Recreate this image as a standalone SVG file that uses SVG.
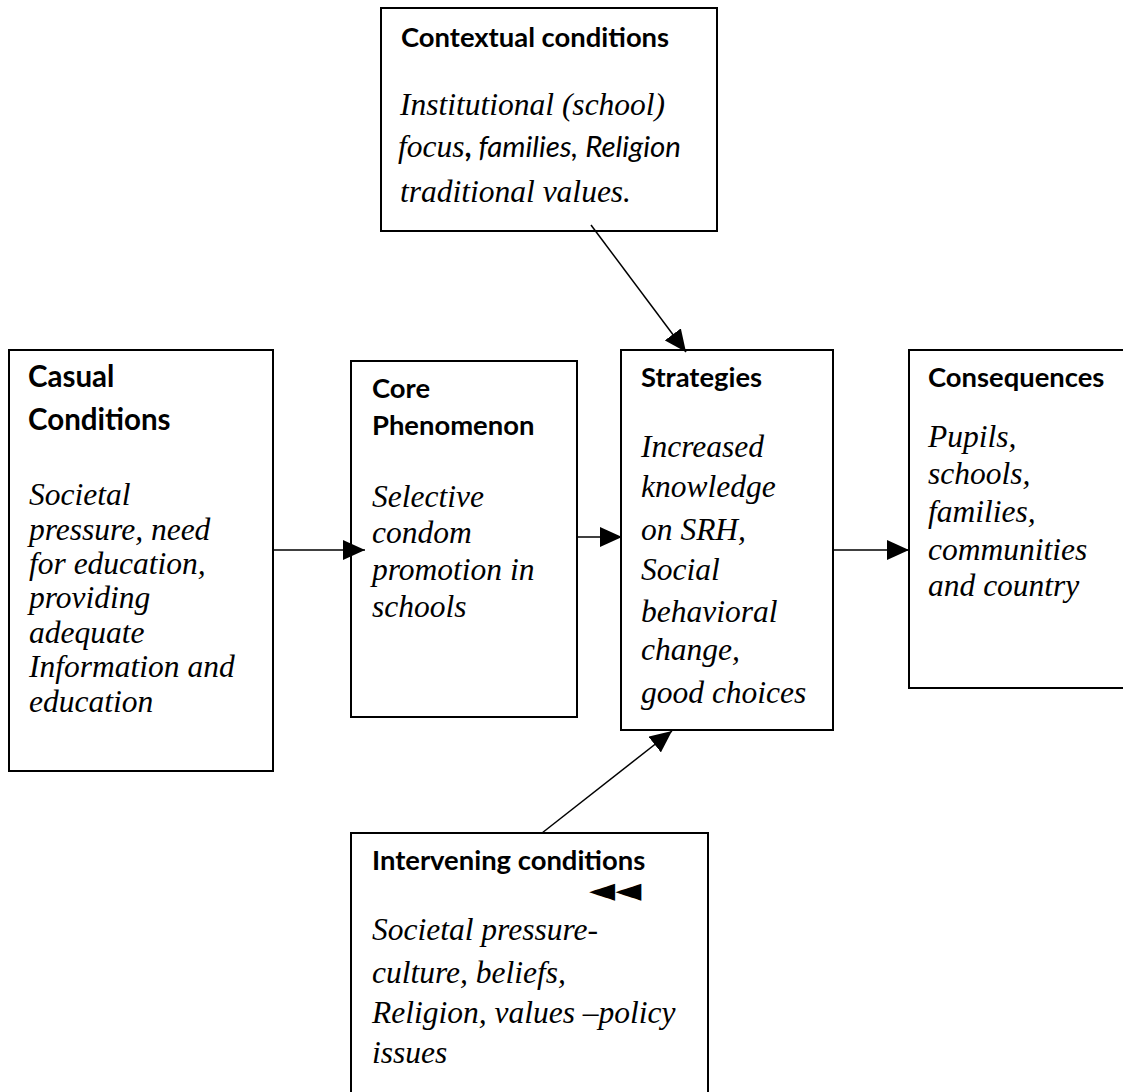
<svg xmlns="http://www.w3.org/2000/svg" width="1123" height="1092" viewBox="0 0 1123 1092">
<style>
.box{fill:#fff;stroke:#000;stroke-width:2}
.h{font-family:Lato,"Open Sans",sans-serif;font-weight:bold;font-size:27.4px;fill:#000}
.hl{font-size:29.5px}
.b{font-family:"Liberation Serif","Times New Roman",serif;font-style:italic;font-size:31.5px;fill:#000}
.s{font-family:Lato,"Open Sans",sans-serif;font-style:italic;font-size:29.5px}
.c{fill:none;stroke:#000;stroke-width:1.5}
</style>
<defs>
<marker id="ah" markerUnits="userSpaceOnUse" markerWidth="22" markerHeight="20" refX="22" refY="10" orient="auto">
<path d="M0,0 L22,10 L0,20 Z" fill="#000"/>
</marker>
</defs>
<rect width="1123" height="1092" fill="#fff"/>
<g id="contextual">
<rect class="box" x="381" y="8" width="336" height="223"/>
<text class="h" x="401" y="47">Contextual conditions</text>
<text class="b" x="400" y="115">Institutional (school)</text>
<text class="b" x="398" y="157">focus<tspan style="font-family:Lato,sans-serif;font-style:normal;font-weight:bold;font-size:30px">,</tspan><tspan class="s"> families, Religion</tspan></text>
<text class="b" x="400" y="202">traditional values.</text>
</g>
<g id="casual">
<rect class="box" x="9" y="350" width="264" height="421"/>
<text class="h hl" x="28" y="387">Casual</text>
<text class="h hl" x="28" y="430">Conditions</text>
<text class="b" x="29" y="505">Societal</text>
<text class="b" x="29" y="540">pressure, need</text>
<text class="b" x="29" y="574">for education,</text>
<text class="b" x="29" y="608">providing</text>
<text class="b" x="29" y="643">adequate</text>
<text class="b" x="29" y="677">Information and</text>
<text class="b" x="29" y="712">education</text>
</g>
<g id="core">
<rect class="box" x="351" y="361" width="226" height="356"/>
<text class="h" x="372" y="398">Core</text>
<text class="h" x="372" y="435">Phenomenon</text>
<text class="b" x="372" y="507">Selective</text>
<text class="b" x="372" y="543">condom</text>
<text class="b" x="372" y="580">promotion in</text>
<text class="b" x="372" y="617">schools</text>
</g>
<g id="strategies">
<rect class="box" x="621" y="350" width="212" height="380"/>
<text class="h" x="641" y="387">Strategies</text>
<text class="b" x="641" y="457">Increased</text>
<text class="b" x="641" y="497">knowledge</text>
<text class="b" x="641" y="540">on SRH,</text>
<text class="b" x="641" y="580">Social</text>
<text class="b" x="641" y="622">behavioral</text>
<text class="b" x="641" y="660">change,</text>
<text class="b" x="641" y="703">good choices</text>
</g>
<g id="consequences">
<rect class="box" x="909" y="350" width="230" height="338"/>
<text class="h" x="928" y="387">Consequences</text>
<text class="b" x="928" y="447">Pupils,</text>
<text class="b" x="928" y="484">schools,</text>
<text class="b" x="928" y="522">families,</text>
<text class="b" x="928" y="560">communities</text>
<text class="b" x="928" y="596">and country</text>
</g>
<g id="intervening">
<rect class="box" x="351" y="833" width="357" height="280"/>
<text class="h" x="372" y="870">Intervening conditions</text>
<text x="589" y="901" style="font-family:'DejaVu Sans',sans-serif;font-size:34px;fill:#000">◄◄</text>
<text class="b" x="372" y="940">Societal pressure-</text>
<text class="b" x="372" y="983">culture, beliefs,</text>
<text class="b" x="372" y="1023">Religion, values –policy</text>
<text class="b" x="372" y="1063">issues</text>
</g>
<g id="connectors">
<line class="c" x1="273" y1="550" x2="365" y2="550" marker-end="url(#ah)"/>
<line class="c" x1="577" y1="537" x2="622" y2="537" marker-end="url(#ah)"/>
<line class="c" x1="833" y1="550" x2="909" y2="550" marker-end="url(#ah)"/>
<line class="c" x1="591" y1="225" x2="686" y2="352" marker-end="url(#ah)"/>
<line class="c" x1="542" y1="833" x2="672" y2="731" marker-end="url(#ah)"/>
</g>
</svg>
